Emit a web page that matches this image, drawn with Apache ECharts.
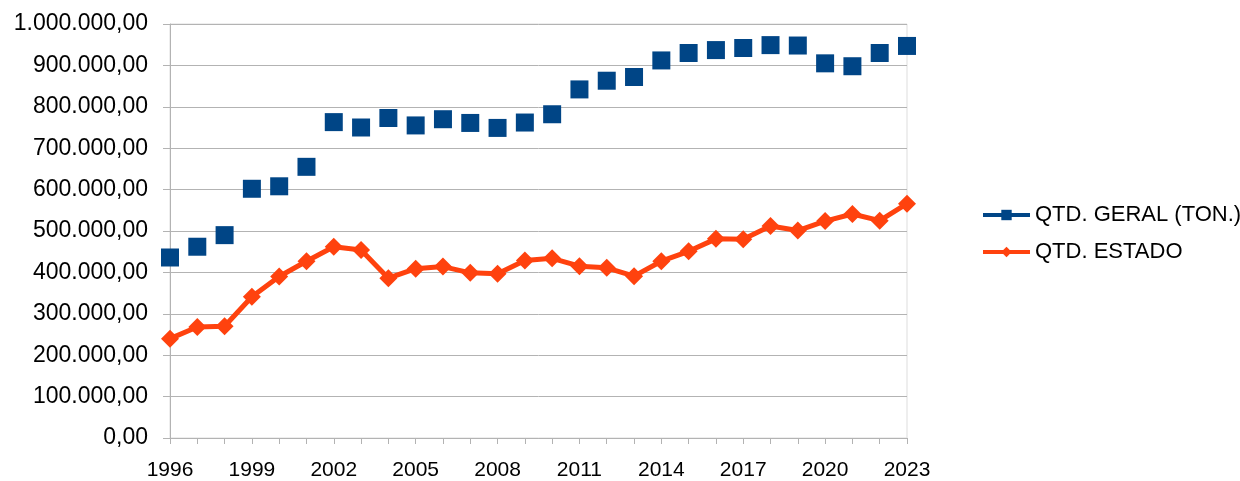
<!DOCTYPE html>
<html>
<head>
<meta charset="utf-8">
<script src="https://cdn.jsdelivr.net/npm/echarts@6/dist/echarts.min.js"></script>
<style>html,body{margin:0;padding:0;background:#fff}#c{width:1240px;height:481px}</style>
</head>
<body>
<div id="c"></div>
<script>
const years = ['1996','1997','1998','1999','2000','2001','2002','2003','2004','2005','2006','2007','2008','2009','2010','2011','2012','2013','2014','2015','2016','2017','2018','2019','2020','2021','2022','2023'];
const qtdGeral = [436000,462000,490000,602000,608000,655000,763000,750000,773000,755000,770000,761000,749000,762000,782000,842000,863000,872000,912000,930000,937000,942000,949000,948000,905000,898000,930000,947000];
const qtdEstado = [240000,268000,270000,341000,390000,427000,462000,454000,386000,409000,414000,399000,397000,429000,434000,415000,411000,391000,427000,451000,481000,480000,512000,501000,524000,541000,525000,566000];
const seriesNames = ['QTD. GERAL (TON.)','QTD. ESTADO'];

function fmt(v){
  const s = Math.round(v).toString().replace(/\B(?=(\d{3})+(?!\d))/g,'.');
  return s + ',00';
}

const chart = echarts.init(document.getElementById('c'));
const FONT = '"Liberation Sans", Arial, sans-serif';
chart.setOption({
  animation:false,
  textStyle:{fontFamily:FONT},
  grid:{left:170,right:333,top:24,bottom:42,show:true,borderColor:'#dddddd',borderWidth:1,containLabel:false},
  legend:{
    orient:'vertical', left:976, top:199, itemWidth:47, itemHeight:13, itemGap:15,
    textStyle:{fontSize:22, color:'#000', fontFamily:FONT, lineHeight:22},
    data:[
      {name:seriesNames[0], lineStyle:{opacity:1,width:4,color:'#004586'}},
      {name:seriesNames[1], lineStyle:{width:4}}
    ]
  },
  xAxis:{
    type:'category', data:years, boundaryGap:false,
    axisLine:{lineStyle:{color:'#b3b3b3',width:1}},
    axisTick:{show:true,interval:0,length:6,lineStyle:{color:'#b3b3b3'}},
    axisLabel:{interval:2,fontSize:21,color:'#000',margin:22,fontFamily:FONT},
    splitLine:{show:false}
  },
  yAxis:{
    type:'value', min:0, max:1000000, interval:100000,
    axisLine:{show:true,lineStyle:{color:'#b3b3b3',width:1}},
    axisTick:{show:true,length:7,lineStyle:{color:'#b3b3b3'}},
    axisLabel:{fontSize:23,color:'#000',margin:22,formatter:fmt,fontFamily:FONT},
    splitLine:{show:true,lineStyle:{color:'#b3b3b3',width:1}}
  },
  series:[
    {name:seriesNames[0], type:'line', data:qtdGeral, symbol:'rect', symbolSize:18, showAllSymbol:true,
     itemStyle:{color:'#004586'}, lineStyle:{opacity:0,width:4,color:'#004586'}, z:3},
    {name:seriesNames[1], type:'line', data:qtdEstado, symbol:'diamond', symbolSize:[18,18], showAllSymbol:true,
     itemStyle:{color:'#ff420e'}, lineStyle:{width:5,color:'#ff420e'}, z:2}
  ]
});
</script>
</body>
</html>
